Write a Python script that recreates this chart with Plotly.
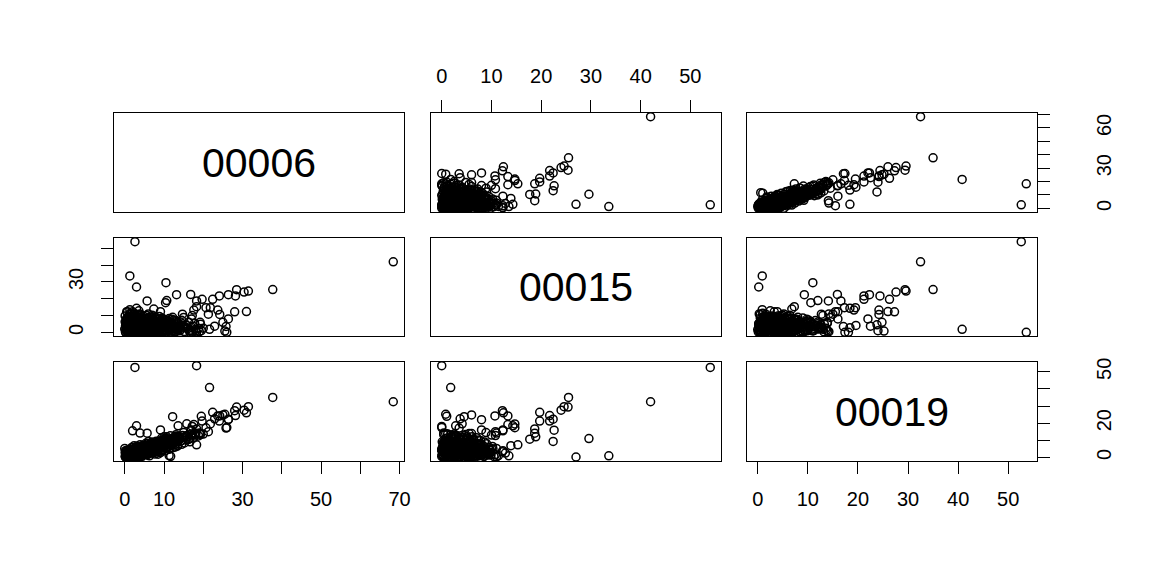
import plotly.graph_objects as go

# ---------------- data ----------------
var_names = ["00006", "00015", "00019"]

# scattered / outlying observations
outer_00006 = [68.4, 2.6, 18.3, 37.7, 21.6, 1.3, 3.0, 10.5,
               31.5, 30.4, 28.5, 28.2, 28.0, 26.4, 26.0, 25.8, 25.0, 24.1,
               22.4, 23.7, 21.8, 24.2, 21.3, 22.9, 19.5, 17.2, 25.5, 19.7,
               18.3, 16.8, 13.2, 10.7, 10.4, 5.7, 1.3, 7.4, 20.7, 17.6,
               17.2, 14.7, 19.2, 15.8, 17.0, 18.3, 12.2, 13.6, 9.1, 3.0,
               2.0, 3.9, 11.7, 13.4, 11.3, 8.0, 31.0, 26.4, 1.2, 0.5]
outer_00015 = [42.0, 54.0, 0.0, 25.5, 1.8, 33.6, 27.0, 29.6,
               24.6, 24.0, 25.4, 21.7, 12.2, 22.4, 0.0, 3.5, 6.0, 21.7,
               19.7, 13.3, 14.7, 10.7, 10.8, 3.7, 1.0, 0.0, 0.8, 19.7,
               18.7, 22.6, 22.4, 18.9, 17.7, 18.7, 13.5, 13.9, 14.7, 13.3,
               10.0, 10.8, 6.0, 4.1, 8.0, 15.3, 4.5, 2.8, 12.3, 14.3,
               12.3, 11.0, 5.0, 6.0, 2.0, 3.0, 12.4, 8.0, 9.6, 12.3]
outer_00019 = [32.5, 52.6, 53.6, 35.0, 40.8, 0.9, 0.2, 11.0,
               29.6, 27.6, 29.4, 24.4, 27.3, 22.3, 17.4, 17.1, 24.8, 21.2,
               26.3, 24.2, 19.5, 24.2, 15.0, 22.5, 24.0, 18.1, 25.2, 21.2,
               16.6, 15.9, 9.3, 12.0, 10.6, 14.1, 0.9, 6.8, 17.3, 19.2,
               13.0, 12.7, 13.9, 19.6, 16.0, 7.3, 23.8, 18.4, 16.0, 18.4,
               15.5, 14.2, 0.6, 6.5, 1.0, 9.4, 26.0, 22.0, 4.5, 3.9]

# dense core of observations near the origin
core_00006 = [0.2, 0.5, 0.8, 1.0, 1.3, 1.6, 1.9, 0.1, 0.4, 0.7,
              1.1, 1.5, 1.8, 0.3, 0.6, 0.9, 1.2, 1.7, 0.0, 1.4,
              0.5, 1.0, 1.9, 0.2, 0.8, 1.3, 1.6, 0.4, 1.1, 1.8,
              2.1, 2.4, 2.7, 3.0, 3.3, 3.6, 3.9, 4.2, 4.5, 4.8,
              2.2, 2.6, 2.9, 3.2, 3.5, 3.8, 4.1, 4.4, 4.7, 5.0,
              2.3, 2.8, 3.1, 3.4, 3.7, 4.0, 4.3, 4.6, 4.9, 2.5,
              3.6, 4.4, 2.0, 3.0, 4.9, 2.7, 3.9, 4.2, 2.4, 3.4,
              5.2, 5.5, 5.8, 6.1, 6.4, 6.7, 7.0, 7.3, 7.6, 7.9,
              5.3, 5.7, 6.0, 6.3, 6.6, 6.9, 7.2, 7.5, 7.8, 5.4,
              5.9, 6.2, 6.5, 6.8, 7.1, 7.4, 7.7, 5.6, 6.0, 7.0,
              8.1, 8.4, 8.7, 9.0, 9.3, 9.6, 9.9, 10.2, 10.5, 10.8,
              8.2, 8.6, 9.1, 9.5, 9.8, 10.1, 10.4, 10.9, 8.9, 9.4,
              8.0, 8.8, 9.7, 10.6, 8.5, 10.0,
              11.1, 11.4, 11.7, 12.0, 12.3, 12.6, 12.9, 13.2, 13.5, 13.8,
              11.3, 11.9, 12.5, 13.0, 13.6, 11.6, 12.2, 12.8,
              14.2, 14.7, 15.2, 15.8, 16.3, 16.9, 17.5, 18.1, 18.8, 19.3,
              14.5, 15.5, 16.6, 17.8, 14.0, 15.0,
              0.3, 0.7, 1.2, 1.6, 2.0, 2.5, 2.9, 3.3, 3.8, 4.3,
              0.1, 0.6, 1.1, 1.5, 2.2, 2.6, 3.1, 3.5, 4.0, 4.6,
              0.4, 0.9, 1.4, 1.9, 2.4, 2.8, 3.2, 3.7, 4.1, 4.5,
              5.1, 5.6, 6.1, 6.6, 7.1, 7.6, 8.1, 8.6, 9.1, 9.6,
              5.0, 5.5, 6.0, 6.5, 7.0, 7.5, 8.0, 8.5, 9.0, 10.0,
              10.5, 11.0, 11.5, 12.0, 12.5, 13.0, 13.5, 14.0, 15.0, 16.0,
              16.5, 17.0, 18.0, 19.0, 20.0, 12.0, 9.5, 7.0, 6.0, 3.0,
              0.2, 0.8, 1.4, 2.0, 2.6, 0.6, 1.0, 1.8, 2.8, 3.6]
core_00015 = [0.3, 1.5, 4.2, 0.8, 2.6, 6.1, 0.2, 9.8, 3.4, 12.2,
              7.3, 0.5, 3.1, 5.4, 8.6, 1.1, 10.5, 4.8, 2.0, 11.4,
              0.9, 2.3, 6.7, 3.9, 0.1, 5.8, 1.7, 7.9, 4.4, 2.8,
              0.4, 3.2, 1.2, 6.4, 2.2, 0.7, 4.6, 8.3, 1.9, 5.5,
              9.1, 1.6, 7.2, 0.2, 3.7, 10.3, 0.9, 2.7, 6.9, 1.3,
              5.0, 2.5, 4.1, 8.8, 1.0, 3.0, 5.9, 0.5, 3.5, 11.0,
              12.8, 7.6, 2.0, 5.2, 9.4, 0.0, 1.5, 4.3, 6.2, 0.8,
              0.6, 3.3, 6.6, 1.4, 4.9, 0.3, 2.9, 7.8, 1.7, 5.1,
              8.4, 2.1, 0.4, 5.7, 2.4, 9.2, 0.9, 3.8, 6.3, 4.0,
              1.0, 3.6, 7.1, 0.1, 4.4, 2.2, 0.7, 10.0, 5.3, 8.7,
              1.1, 4.7, 2.0, 6.8, 0.5, 3.9, 1.6, 5.6, 0.2, 2.6,
              7.5, 0.8, 3.2, 8.1, 4.2, 0.6, 7.0, 4.9, 5.4, 2.3,
              3.0, 9.5, 0.0, 1.2, 2.9, 6.1,
              3.4, 0.7, 5.8, 1.9, 4.1, 0.3, 2.8, 6.5, 1.3, 3.7,
              8.2, 2.5, 7.4, 0.4, 5.1, 4.6, 9.0, 2.1,
              1.6, 4.3, 0.5, 2.7, 6.0, 1.2, 3.5, 0.8, 2.4, 4.8,
              7.2, 3.0, 0.1, 5.5, 2.2, 8.9,
              2.1, 5.1, 0.6, 3.6, 7.7, 1.4, 4.0, 6.8, 2.4, 0.2,
              6.3, 0.4, 8.9, 2.2, 4.4, 9.9, 1.8, 5.3, 7.1, 3.9,
              1.2, 3.0, 5.0, 9.3, 0.6, 6.0, 3.0, 0.3, 5.6, 8.0,
              2.7, 4.5, 1.8, 6.9, 3.4, 0.5, 4.1, 1.9, 6.0, 0.9,
              5.9, 0.2, 3.0, 1.0, 5.6, 2.8, 0.4, 5.2, 3.5, 2.9,
              4.0, 1.5, 3.0, 5.5, 1.0, 4.4, 2.5, 0.9, 3.8, 2.0,
              1.0, 3.0, 1.8, 0.4, 2.5, 7.8, 8.6, 10.2, 11.0, 10.8,
              0.0, 0.9, 0.3, 1.6, 0.1, 4.6, 6.6, 8.2, 9.0, 0.4]
core_00019 = [0.1, 0.6, 1.2, 0.3, 2.1, 0.9, 1.5, 2.8, 0.4, 3.3,
              1.8, 4.1, 0.2, 1.4, 0.8, 2.6, 0.5, 3.6, 5.2, 1.0,
              2.3, 0.7, 2.5, 3.9, 1.6, 4.6, 0.0, 1.1, 3.1, 5.8,
              1.2, 0.4, 2.9, 1.9, 4.4, 3.1, 0.9, 2.4, 5.1, 3.7,
              2.0, 5.6, 0.7, 3.4, 1.5, 4.9, 6.2, 0.6, 2.2, 4.3,
              3.6, 1.8, 6.5, 2.7, 5.5, 1.1, 3.9, 7.0, 5.9, 0.3,
              2.5, 4.7, 2.6, 0.2, 1.7, 4.0, 7.4, 5.3, 6.8, 4.8,
              3.0, 5.2, 2.1, 6.3, 3.8, 7.1, 4.5, 2.8, 8.0, 5.6,
              6.6, 1.4, 4.9, 0.9, 5.8, 3.3, 6.9, 4.0, 3.1, 8.2,
              4.2, 7.5, 2.4, 5.5, 8.6, 6.0, 1.9, 5.0, 9.2, 3.5,
              4.6, 6.3, 7.7, 5.1, 8.9, 3.8, 6.9, 9.6, 5.4, 8.1,
              3.2, 9.4, 2.7, 7.3, 10.4, 6.2, 3.9, 10.9, 8.4, 11.3,
              7.0, 5.9, 4.4, 7.2, 1.8, 12.0,
              6.4, 9.0, 7.9, 11.0, 5.6, 8.5, 12.3, 9.7, 7.1, 10.8,
              4.7, 6.9, 10.1, 13.2, 11.9, 12.6, 8.0, 6.0,
              9.3, 11.6, 8.4, 12.8, 10.5, 13.7, 11.2, 14.0, 12.5, 13.3,
              7.6, 10.2, 9.1, 13.9, 12.0, 14.5,
              1.9, 0.2, 3.4, 2.2, 1.0, 2.0, 3.2, 0.8, 4.0, 3.0,
              0.6, 3.0, 1.4, 4.8, 3.3, 1.5, 4.2, 2.3, 5.8, 1.4,
              2.6, 4.3, 0.4, 3.0, 2.8, 4.4, 5.9, 6.1, 0.9, 6.0,
              2.0, 3.6, 5.4, 4.6, 2.6, 6.8, 8.1, 5.0, 6.4, 9.9,
              5.9, 4.4, 3.0, 7.0, 6.2, 4.8, 5.6, 8.7, 3.5, 8.8,
              6.8, 10.0, 8.8, 9.2, 11.2, 7.8, 12.2, 10.9, 11.8, 12.2,
              11.0, 12.5, 13.0, 14.2, 13.6, 9.8, 9.0, 6.4, 5.2, 1.6,
              0.5, 1.3, 0.7, 0.3, 1.3, 2.4, 3.8, 1.8, 2.6, 0.5]

# further observations inside the dense core
core3_00006 = [0.5, 1.5, 2.5, 3.5, 4.5, 5.5, 6.5, 7.5, 8.5, 9.5,
               1.0, 2.0, 3.0, 4.0, 5.0, 6.0, 7.0, 8.0, 9.0, 11.0,
               0.3, 1.3, 2.3, 3.3, 4.3, 5.3, 6.3, 7.3, 8.3, 10.3,
               0.8, 1.8, 2.8, 3.8, 4.8, 5.8, 6.8, 7.8, 8.8, 12.5,
               0.6, 1.6, 2.6, 3.6, 4.6, 5.6, 6.6, 10.8, 11.8, 13.0,
               0.9, 1.9, 2.9, 3.9, 4.9, 5.9, 6.9, 9.2, 11.4, 14.4]
core3_00015 = [7.0, 6.5, 5.8, 4.2, 2.9, 7.4, 1.2, 6.0, 4.6, 7.8,
               3.8, 8.0, 9.6, 6.6, 8.2, 6.8, 5.0, 8.8, 1.4, 6.3,
               5.5, 1.9, 3.6, 7.3, 5.2, 2.6, 9.0, 0.2, 7.6, 3.3,
               8.4, 5.7, 3.3, 1.1, 6.4, 8.1, 2.1, 4.3, 0.7, 3.6,
               2.5, 9.5, 7.8, 2.3, 1.7, 5.0, 7.9, 7.4, 0.8, 7.0,
               4.9, 0.0, 8.5, 9.8, 3.9, 3.9, 5.9, 7.2, 6.4, 5.6]
core3_00019 = [0.9, 2.4, 1.6, 3.3, 2.0, 4.0, 5.1, 5.9, 6.6, 7.7,
               0.3, 1.2, 4.6, 0.8, 2.9, 3.2, 7.8, 4.3, 9.5, 8.3,
               1.8, 3.0, 0.6, 5.0, 4.1, 6.9, 2.4, 3.9, 7.2, 9.0,
               3.5, 0.6, 2.2, 1.0, 6.6, 5.5, 3.8, 8.4, 6.0, 10.4,
               4.2, 1.4, 4.8, 2.1, 5.3, 1.6, 6.1, 8.0, 7.3, 11.5,
               2.7, 4.5, 0.5, 4.0, 3.7, 7.9, 8.9, 6.9, 10.6, 9.7]

# axis ticks and which tick labels R kept (overlapping ones dropped)
ticks_00006 = [0, 10, 20, 30, 40, 50, 60, 70]
ticks_00015 = [0, 10, 20, 30, 40, 50]
ticks_00019 = [0, 10, 20, 30, 40, 50]
shown_x = {0: [0, 10, 30, 50, 70], 1: [0, 10, 20, 30, 40, 50], 2: [0, 10, 20, 30, 40, 50]}
shown_y = {0: [0, 30, 60], 1: [0, 30], 2: [0, 20, 50]}

# ---------------- figure ----------------
assert len(outer_00006) == len(outer_00015) == len(outer_00019)
assert len(core_00006) == len(core_00015) == len(core_00019)
assert len(core3_00006) == len(core3_00015) == len(core3_00019)
data = [outer_00006 + core_00006 + core3_00006,
        outer_00015 + core_00015 + core3_00015,
        outer_00019 + core_00019 + core3_00019]
ticks = [ticks_00006, ticks_00015, ticks_00019]

rngs = []
for v in data:
    lo, hi = min(v), max(v)
    s = hi - lo
    rngs.append([lo - 0.04 * s, hi + 0.04 * s])

OFF = 8  # default page body margin
W, H = 1152 - 2 * OFF, 576 - 2 * OFF
col_px = [(114, 404), (431, 721), (747, 1037)]
row_px = [(113, 212), (238, 336), (362, 461)]

FONT = "Arial, Liberation Sans, Helvetica, sans-serif"
TICKFONT = dict(family=FONT, size=20, color="black")

fig = go.Figure()
layout = dict(width=W, height=H, margin=dict(l=0, r=0, t=0, b=0, autoexpand=False),
              paper_bgcolor="white", plot_bgcolor="white", showlegend=False,
              annotations=[])

for r in range(3):
    for c in range(3):
        k = r * 3 + c + 1
        xa = "xaxis" if k == 1 else f"xaxis{k}"
        ya = "yaxis" if k == 1 else f"yaxis{k}"
        xref = "x" if k == 1 else f"x{k}"
        yref = "y" if k == 1 else f"y{k}"
        x0, x1 = [p - OFF for p in col_px[c]]
        y0, y1 = [p - OFF for p in row_px[r]]
        base = dict(showline=True, mirror=True, linecolor="black", linewidth=1,
                    showgrid=False, zeroline=False, ticks="", showticklabels=False,
                    fixedrange=True, automargin=False)
        xax = dict(base, domain=[x0 / W, x1 / W], range=rngs[c], anchor=yref)
        yax = dict(base, domain=[1 - y1 / H, 1 - y0 / H], range=rngs[r], anchor=xref)

        # x axes: bottom for columns 1 and 3 (last row), top for column 2 (first row)
        if (r == 2 and c in (0, 2)) or (r == 0 and c == 1):
            xax.update(side="bottom" if r == 2 else "top", ticks="outside", ticklen=12,
                       tickwidth=1, tickcolor="black", showticklabels=True,
                       tickmode="array", tickvals=ticks[c],
                       ticktext=[str(t) if t in shown_x[c] else "" for t in ticks[c]],
                       tickfont=TICKFONT, ticklabelstandoff=9 if r == 0 else 8)
        # y axes: left for row 2 (first column), right for rows 1 and 3 (last column)
        if (c == 2 and r in (0, 2)) or (c == 0 and r == 1):
            yax.update(side="right" if c == 2 else "left", ticks="outside", ticklen=12,
                       tickwidth=1, tickcolor="black", showticklabels=True,
                       tickmode="array", tickvals=ticks[r],
                       ticktext=[str(t) if t in shown_y[r] else "" for t in ticks[r]],
                       tickfont=TICKFONT, tickangle=-90,
                       ticklabelstandoff=37 if c == 2 else 10)
        layout[xa] = xax
        layout[ya] = yax

        if r == c:
            fig.add_trace(go.Scatter(x=[], y=[], xaxis=xref, yaxis=yref, mode="markers"))
            layout["annotations"].append(dict(
                x=(x0 + x1) / 2 / W, y=1 - (y0 + y1) / 2 / H, xref="paper", yref="paper",
                text=var_names[r], showarrow=False,
                font=dict(family=FONT, size=41, color="black"),
                xanchor="center", yanchor="middle"))
        else:
            fig.add_trace(go.Scatter(
                x=data[c], y=data[r], xaxis=xref, yaxis=yref, mode="markers",
                marker=dict(symbol="circle-open", size=8, color="black",
                            line=dict(width=1.5, color="black")),
                hoverinfo="skip"))

fig.update_layout(**layout)
fig.write_html("out.html")
